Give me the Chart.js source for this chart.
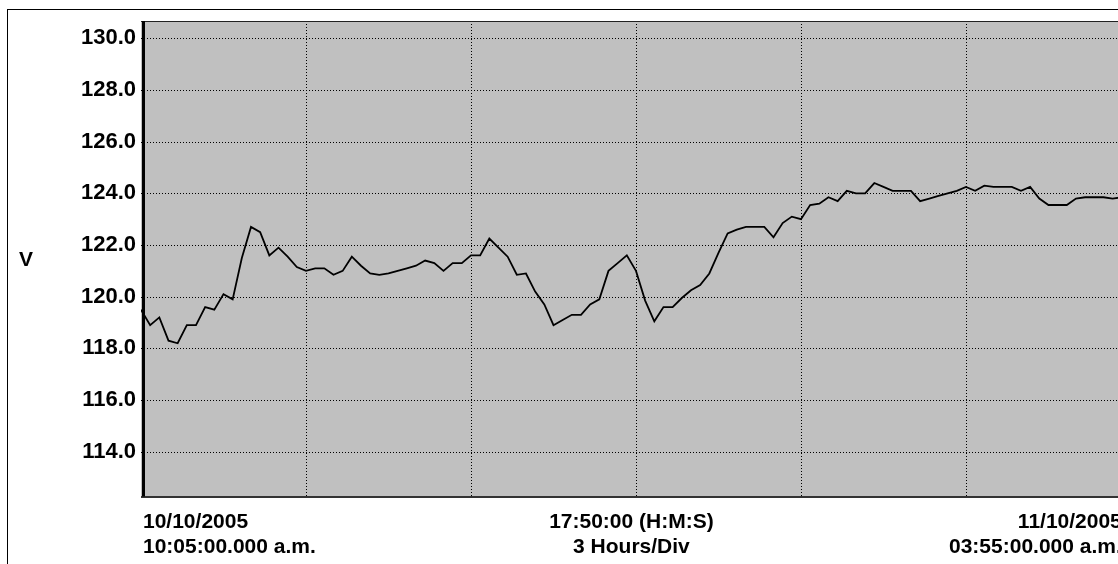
<!DOCTYPE html>
<html>
<head>
<meta charset="utf-8">
<script src="https://cdn.jsdelivr.net/npm/chart.js@4/dist/chart.umd.min.js"></script>
<style>
  html, body { margin: 0; padding: 0; background: #fff; overflow: hidden; }
  #wrap { position: absolute; left: 0; top: 0; width: 1130px; height: 600px; }
</style>
</head>
<body>
<div id="wrap"><canvas id="c" width="1130" height="600"></canvas></div>
<script>
// Voltage samples every 10 minutes from 10:05 a.m. 10/10/2005 to 03:55 a.m. 11/10/2005
const sampleIndex = Array.from({length: 108}, (_, i) => i);
const voltage = [
  119.5, 118.9, 119.2, 118.3, 118.2, 118.9, 118.9, 119.6, 119.5, 120.1,
  119.9, 121.5, 122.7, 122.5, 121.6, 121.9, 121.55, 121.15, 121.0, 121.1,
  121.1, 120.85, 121.0, 121.55, 121.2, 120.9, 120.85, 120.9, 121.0, 121.1,
  121.2, 121.4, 121.3, 121.0, 121.3, 121.3, 121.6, 121.6, 122.25, 121.9,
  121.55, 120.85, 120.9, 120.2, 119.7, 118.9, 119.1, 119.3, 119.3, 119.7,
  119.9, 121.0, 121.3, 121.6, 121.0, 119.85, 119.05, 119.6, 119.6, 119.95,
  120.25, 120.45, 120.9, 121.7, 122.45, 122.6, 122.7, 122.7, 122.7, 122.3,
  122.85, 123.1, 123.0, 123.55, 123.6, 123.85, 123.7, 124.1, 124.0, 124.0,
  124.4, 124.25, 124.1, 124.1, 124.1, 123.7, 123.8, 123.9, 124.0, 124.1,
  124.25, 124.1, 124.3, 124.25, 124.25, 124.25, 124.1, 124.25, 123.8, 123.55,
  123.55, 123.55, 123.8, 123.85, 123.85, 123.85, 123.8, 123.85
];
const yTickValues = [114, 116, 118, 120, 122, 124, 126, 128, 130];
const xDivisionValues = [18, 36, 54, 72, 90]; // 3 hours per division (18 samples)
const yAxisTitle = 'V';
const startLabel = ['10/10/2005', '10:05:00.000 a.m.'];
const middleLabel = ['17:50:00 (H:M:S)', '3 Hours/Div'];
const endLabel = ['11/10/2005', '03:55:00.000 a.m.'];

const FONT = 'bold 21px "Liberation Sans", Arial, sans-serif';

const decor = {
  id: 'decor',
  beforeDraw(chart) {
    const {ctx, chartArea: a} = chart;
    ctx.save();
    ctx.fillStyle = '#c0c0c0';
    ctx.fillRect(a.left, a.top, a.right - a.left, a.bottom - a.top);
    ctx.restore();
  },
  beforeDatasetsDraw(chart) {
    const {ctx, chartArea: a, scales} = chart;
    ctx.save();
    ctx.strokeStyle = '#000';
    ctx.lineWidth = 1;
    ctx.setLineDash([1, 2]);
    yTickValues.forEach(v => {
      const y = Math.round(scales.y.getPixelForValue(v)) + 0.5;
      ctx.beginPath(); ctx.moveTo(a.left, y); ctx.lineTo(a.right, y); ctx.stroke();
    });
    xDivisionValues.forEach(v => {
      const x = Math.round(scales.x.getPixelForValue(v)) + 0.5;
      ctx.beginPath(); ctx.moveTo(x, a.top); ctx.lineTo(x, a.bottom); ctx.stroke();
    });
    ctx.restore();
  },
  afterDatasetsDraw(chart) {
    const {ctx, chartArea: a} = chart;
    ctx.save();
    ctx.fillStyle = '#222';
    ctx.fillRect(a.left, a.top, a.right - a.left, 1);
    ctx.fillStyle = '#333';
    ctx.fillRect(a.left, Math.round(a.bottom) - 1, a.right - a.left, 2);
    ctx.fillStyle = '#000';
    ctx.fillRect(Math.round(a.left) + 1, a.top, 3, a.bottom - a.top);
    ctx.restore();
  },
  afterDraw(chart) {
    const {ctx, chartArea: a} = chart;
    ctx.save();
    ctx.strokeStyle = '#000';
    ctx.lineWidth = 1;
    ctx.strokeRect(7.5, 9.5, 3000, 3000);
    ctx.font = FONT;
    ctx.fillStyle = '#000';
    ctx.textBaseline = 'alphabetic';
    const b1 = 528, b2 = 553;
    ctx.textAlign = 'left';
    ctx.fillText(startLabel[0], a.left + 2, b1);
    ctx.fillText(startLabel[1], a.left + 2, b2);
    ctx.textAlign = 'center';
    const mid = (a.left + a.right) / 2;
    ctx.fillText(middleLabel[0], mid, b1);
    ctx.fillText(middleLabel[1], mid, b2);
    ctx.textAlign = 'right';
    ctx.fillText(endLabel[0], a.right, b1);
    ctx.fillText(endLabel[1], a.right, b2);
    ctx.textAlign = 'center';
    ctx.textBaseline = 'middle';
    ctx.fillText(yAxisTitle, 26, 260);
    ctx.restore();
  }
};

new Chart(document.getElementById('c'), {
  type: 'line',
  data: {
    labels: sampleIndex,
    datasets: [{
      data: sampleIndex.map((x, i) => ({x, y: voltage[i]})),
      borderColor: '#000',
      borderWidth: 1.8,
      pointRadius: 0,
      tension: 0,
      fill: false
    }]
  },
  options: {
    responsive: false,
    animation: false,
    devicePixelRatio: 1,
    layout: { padding: { top: 21, right: 8.2, left: 0, bottom: 0 } },
    plugins: { legend: { display: false }, tooltip: { enabled: false } },
    scales: {
      x: {
        type: 'linear', min: 0, max: 107,
        grid: { display: false, drawTicks: false },
        border: { display: false },
        ticks: { display: false },
        afterFit(s) { s.height = 103.5; }
      },
      y: {
        type: 'linear', min: 112.27, max: 130.67,
        grid: { display: false, drawTicks: false },
        border: { display: false },
        afterBuildTicks(s) { s.ticks = yTickValues.map(v => ({value: v})); },
        ticks: {
          color: '#000',
          padding: 5,
          font: { family: '"Liberation Sans", Arial, sans-serif', size: 22, weight: 'bold' },
          callback: v => Number(v).toFixed(1)
        },
        afterFit(s) { s.width = 141; }
      }
    }
  },
  plugins: [decor]
});
</script>
</body>
</html>
